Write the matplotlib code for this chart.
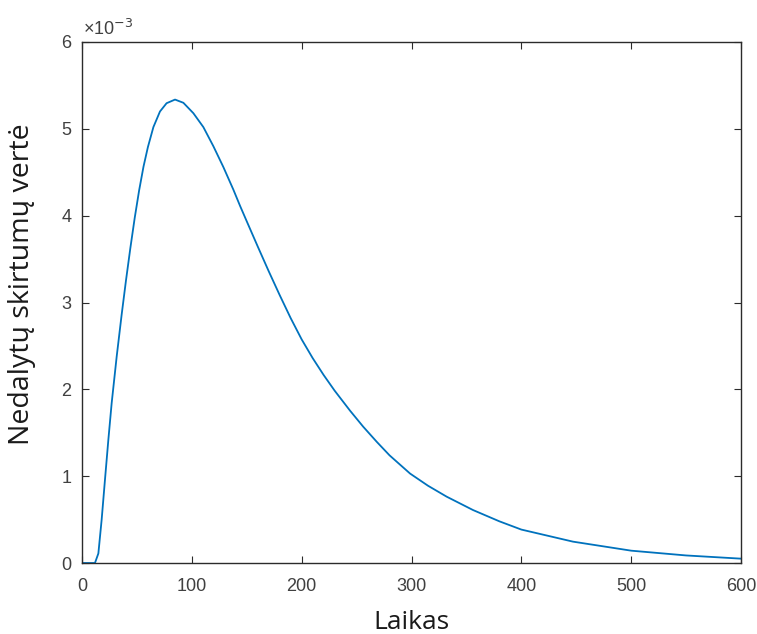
import matplotlib
matplotlib.use("Agg")
import matplotlib.pyplot as plt
from matplotlib.ticker import FuncFormatter

# Data (value axis in units of 1e-3)
laikas = [0, 11.8, 14.9, 17.9, 20.9, 24, 27, 31.6, 36.1, 40, 44, 48, 52, 56,
          60, 65, 71, 77, 84.7, 92.3, 101.4, 110.5, 119.6, 128.7, 137.8, 144,
          150, 160, 170, 180, 190, 200, 210, 220, 230, 244, 256, 268.4, 280,
          298.7, 315, 332, 356, 380, 400, 447, 500, 550, 600]
verte_e3 = [0, 0, 0.11, 0.50, 0.957, 1.42, 1.84, 2.38, 2.86, 3.25, 3.625,
            3.975, 4.29, 4.565, 4.79, 5.02, 5.20, 5.295, 5.337, 5.30, 5.18,
            5.02, 4.80, 4.56, 4.30, 4.11, 3.935, 3.645, 3.36, 3.085, 2.82,
            2.575, 2.36, 2.165, 1.985, 1.755, 1.57, 1.395, 1.24, 1.03, 0.89,
            0.764, 0.61, 0.48, 0.385, 0.246, 0.142, 0.087, 0.05]
xticks = [0, 100, 200, 300, 400, 500, 600]
yticks = [0, 1, 2, 3, 4, 5, 6]

verte = [v * 1e-3 for v in verte_e3]

fig = plt.figure(figsize=(7.57, 6.34), dpi=100)
ax = fig.add_axes([82/757, 1 - 563/634, (741-82)/757, (563-42)/634])

ax.plot(laikas, verte, color="#0072BD", lw=1.3, solid_joinstyle="round")

ax.set_xlim(0, 600)
ax.set_ylim(0, 6e-3)
ax.set_xticks(xticks)
ax.set_yticks([y * 1e-3 for y in yticks])
ax.yaxis.set_major_formatter(FuncFormatter(lambda v, p: f"{v*1e3:g}"))

tick_col = "#404040"
for s in ax.spines.values():
    s.set_color("#2b2b2b")
    s.set_linewidth(1.0)
ax.tick_params(direction="in", top=True, right=True, length=5, width=0.8,
               colors="#2b2b2b", labelcolor=tick_col, labelsize=13)
ax.tick_params(axis="x", pad=10.5)
ax.tick_params(axis="y", pad=7.5)
for lab in ax.get_xticklabels() + ax.get_yticklabels():
    lab.set_family("Liberation Sans")

ax.text(0.002, 1.006, "×10$^{-3}$", transform=ax.transAxes, ha="left", va="bottom",
        fontsize=13, color=tick_col, family="Liberation Sans")

ax.set_xlabel("Laikas", fontsize=19, family="Open Sans", color="#1a1a1a")
ax.set_ylabel("Nedalytų skirtumų vertė", fontsize=20.5, family="Open Sans",
              color="#1a1a1a")
ax.xaxis.set_label_coords(0.5, (563 - 610) / 521)
ax.yaxis.set_label_coords((36 - 82) / 659, (563 - 284) / 521)

fig.savefig("out.png", dpi=100)
